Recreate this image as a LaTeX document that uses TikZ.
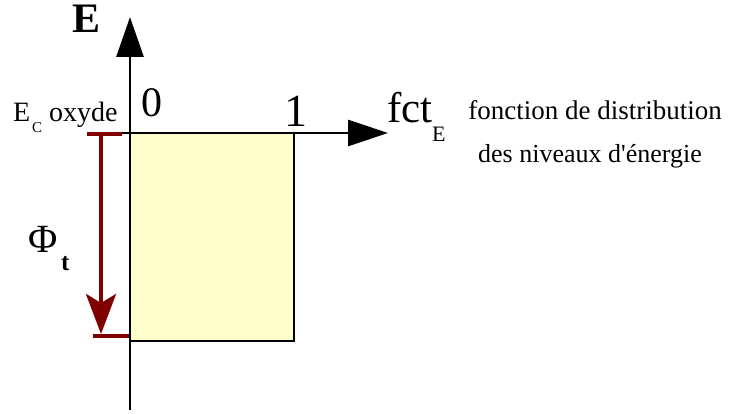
\documentclass[tikz,border=0pt]{standalone}
\usepackage{fontspec}
\setmainfont{Liberation Serif}[Ligatures=TeXOff]
\usetikzlibrary{arrows.meta}
\definecolor{darkred}{HTML}{800000}
\definecolor{boxyellow}{HTML}{FFFFCC}
\newcommand{\fs}[1]{\fontsize{#1}{#1}\selectfont}
\begin{document}
\begin{tikzpicture}[x=1pt,y=-1pt,
  txt/.style={inner sep=0pt, outer sep=0pt, anchor=base},
  txtw/.style={inner sep=0pt, outer sep=0pt, anchor=base west},
  axis/.style={line width=2.8pt, draw=black},
  redline/.style={line width=4pt, draw=darkred},
  distbox/.style={draw=black, line width=1.5pt, fill=boxyellow, inner sep=0pt, outer sep=0pt, anchor=north west, minimum width=164pt, minimum height=208pt}]
\useasboundingbox (0,0) rectangle (738,414);
% box
\node[distbox] (box) at (130,133) {};
% coordinates
\coordinate (Ybot) at (130,410);
\coordinate (Ytop) at (130,17);
\coordinate (Xstart) at (122,133);
\coordinate (Xend) at (388,133);
\coordinate (Rtl) at (87,134.5);
\coordinate (Rtr) at (122,134.5);
\coordinate (Rbl) at (93,336);
\coordinate (Rbr) at (130,336);
\coordinate (Rs) at (101,134.5);
\coordinate (Re) at (101,334);
% red measure
\draw[redline] (Rtl) -- (Rtr);
\draw[redline] (Rbl) -- (Rbr);
\draw[redline, -{Stealth[length=40pt,width=30pt,inset=9pt]}] (Rs) -- (Re);
% axes
\draw[axis, -{Triangle[length=40pt,width=27pt]}] (Ybot) -- (Ytop);
\draw[axis, -{Triangle[length=40pt,width=26pt]}] (Xstart) -- (Xend);
% labels
\node[txt, font=\bfseries\fs{42}] (Elab) at (87,33) {E};
\node[txt, font=\fs{42}] (zero) at (152,117) {0};
\node[txt, font=\fs{46}] (one) at (296,127) {1};
\node[txtw, font=\fs{43}] (fct) at (387,123) {fct};
\node[txtw, font=\fs{22}] (fctsub) at (432,142) {E};
\node[txt, font=\fs{27}] (desc1) at (595,120) {fonction de distribution};
\node[txt, font=\fs{26}] (desc2) at (590,163) {des niveaux d'énergie};
\node[txtw, font=\fs{28}] (Ec) at (13,122) {E};
\node[txtw, font=\fs{15}] (Ecsub) at (32,133) {C};
\node[txtw, font=\fs{28}] (oxyde) at (49,122) {oxyde};
\node[txtw, font=\fs{40}] (phi) at (28,252) {Φ};
\node[txtw, font=\bfseries\fs{25}] (phisub) at (61,270) {t};
\end{tikzpicture}
\end{document}
